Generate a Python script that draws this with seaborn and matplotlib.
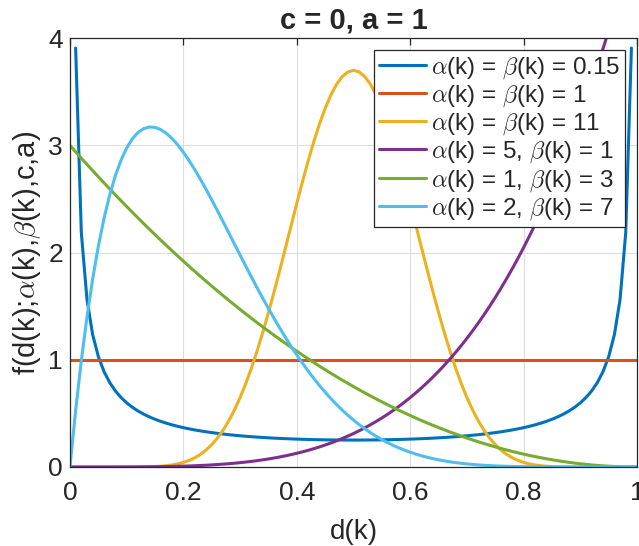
import math
import numpy as np
import pandas as pd
import seaborn as sns
import matplotlib
matplotlib.use("Agg")
import matplotlib.pyplot as plt

# Beta-distribution shape parameters for each curve
alphas = [0.15, 1, 11, 5, 1, 2]
betas = [0.15, 1, 11, 1, 3, 7]
labels = [
    r"$\alpha$(k) = $\beta$(k) = 0.15",
    r"$\alpha$(k) = $\beta$(k) = 1",
    r"$\alpha$(k) = $\beta$(k) = 11",
    r"$\alpha$(k) = 5, $\beta$(k) = 1",
    r"$\alpha$(k) = 1, $\beta$(k) = 3",
    r"$\alpha$(k) = 2, $\beta$(k) = 7",
]
colors = ["#0072BD", "#D95319", "#EDB120", "#7E2F8E", "#77AC30", "#4DBEEE"]
c_loc, a_scale = 0, 1
x_ticks = [0, 0.2, 0.4, 0.6, 0.8, 1]
x_ticklabels = ["0", "0.2", "0.4", "0.6", "0.8", "1"]
y_ticks = [0, 1, 2, 3, 4]


def beta_pdf(x, a, b):
    norm = math.gamma(a) * math.gamma(b) / math.gamma(a + b)
    with np.errstate(divide="ignore", invalid="ignore"):
        y = x ** (a - 1) * (1 - x) ** (b - 1) / norm
    y[~np.isfinite(y)] = np.nan
    return y


d = np.linspace(0, 1, 101)
frames = []
for a, b, lab in zip(alphas, betas, labels):
    frames.append(pd.DataFrame({"d": d, "f": beta_pdf(d, a, b), "curve": lab}))
df = pd.concat(frames, ignore_index=True)

sns.set_style("white")
plt.rcParams["font.family"] = ["Liberation Sans", "DejaVu Sans"]
plt.rcParams["mathtext.fontset"] = "cm"

fig = plt.figure(figsize=(6.39, 5.46), dpi=100)
ax = fig.add_axes([0.1095, 0.1447, 0.8875, 0.7853])

sns.lineplot(data=df, x="d", y="f", hue="curve", hue_order=labels,
             palette=colors, linewidth=2.2, estimator=None, sort=False, ax=ax)

ax.set_xlim(0, 1)
ax.set_ylim(0, 4)
ax.set_xticks(x_ticks)
ax.set_xticklabels(x_ticklabels)
ax.set_yticks(y_ticks)
ax.grid(True, color="#DEDEDE", linewidth=0.8)
ax.set_axisbelow(True)
for s in ax.spines.values():
    s.set_color("#262626")
    s.set_linewidth(0.9)
ax.tick_params(axis="both", direction="in", length=5, width=0.9,
               colors="#262626", labelsize=19, top=True, right=False)
ax.tick_params(axis="x", pad=10)
ax.tick_params(axis="y", pad=5)

ax.set_xlabel("d(k)", fontsize=20, color="#262626", labelpad=10)
ax.set_ylabel(r"f(d(k);$\alpha$(k),$\beta$(k),c,a)", fontsize=21,
              color="#262626", labelpad=4)
ax.set_title(f"c = {c_loc}, a = {a_scale}", fontsize=21, fontweight="bold", pad=7)

leg = ax.legend(loc="upper right", bbox_to_anchor=(0.979, 0.972), fontsize=17.5,
                frameon=True, fancybox=False, edgecolor="#262626",
                handlelength=1.95, handletextpad=0.2, labelspacing=0.1,
                borderpad=0.2, borderaxespad=0)
leg.get_frame().set_linewidth(0.9)
leg.get_frame().set_alpha(1)

fig.savefig("out.png", dpi=100)
